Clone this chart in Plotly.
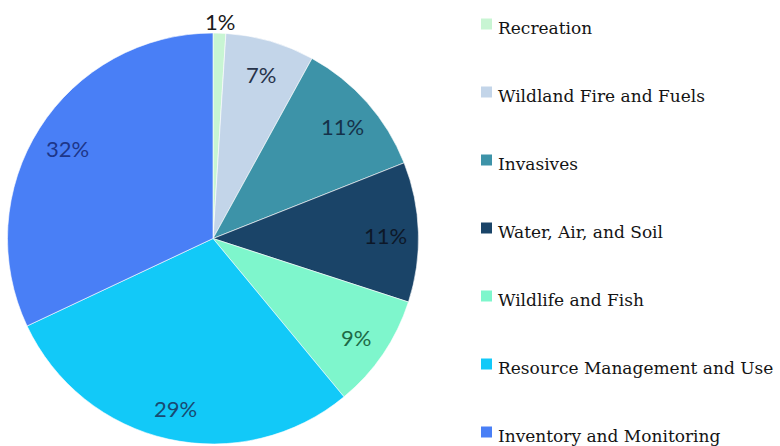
import math
import plotly.graph_objects as go

# Share of projects by program area (percent)
categories = [
    "Recreation",
    "Wildland Fire and Fuels",
    "Invasives",
    "Water, Air, and Soil",
    "Wildlife and Fish",
    "Resource Management and Use",
    "Inventory and Monitoring",
]
shares = [1, 7, 11, 11, 9, 29, 32]

slice_colors = ["#c8f5d3", "#c3d5e9", "#3d93a8", "#1a4468", "#7ef6cc", "#12c9f8", "#497ff6"]
label_colors = ["#1a1a1a", "#27334a", "#15324a", "#0d1828", "#1d6a46", "#184a72", "#1d3689"]

W, H = 780, 446
# pie placement in pixels
cx, cy, R = 213, 238.5, 205.5

fig = go.Figure()
fig.add_trace(go.Pie(
    labels=categories,
    values=shares,
    sort=False,
    direction="clockwise",
    rotation=0,
    marker=dict(colors=slice_colors, line=dict(color="rgba(255,255,255,0.6)", width=1)),
    textinfo="none",
    hoverinfo="label+percent",
    showlegend=False,
    domain=dict(x=[(cx - R) / W, (cx + R) / W], y=[(H - cy - R) / H, (H - cy + R) / H]),
))

# percentage labels placed along each slice's mid-angle
total = sum(shares)
cum = 0
annotations = []
for val, col in zip(shares, label_colors):
    mid = (cum + val / 2) / total * 2 * math.pi
    cum += val
    rf = 1.065 if val / total < 0.03 else 0.84
    px = cx + rf * R * math.sin(mid)
    py = cy - rf * R * math.cos(mid) + 2
    annotations.append(dict(
        x=px / W, y=1 - py / H, xref="paper", yref="paper",
        text=f"{val}%", showarrow=False,
        font=dict(family="Lato", size=22, color=col),
        xanchor="center", yanchor="middle",
    ))

# legend: colored squares with category names
shapes = []
leg_x, leg_top, leg_step, sq = 481, 26, 68, 11
for i, (name, col) in enumerate(zip(categories, slice_colors)):
    yc = leg_top + i * leg_step
    shapes.append(dict(
        type="rect", xref="paper", yref="paper",
        x0=leg_x / W, x1=(leg_x + sq) / W,
        y0=1 - (yc + sq / 2 - 2) / H, y1=1 - (yc - sq / 2 - 2) / H,
        fillcolor=col, line=dict(width=0),
    ))
    annotations.append(dict(
        x=(leg_x + sq + 4) / W, y=1 - (yc + 2) / H, xref="paper", yref="paper",
        text=name, showarrow=False, xanchor="left", yanchor="middle",
        font=dict(family="DejaVu Serif", size=17, color="#141414"),
    ))

fig.update_layout(
    width=W, height=H,
    margin=dict(l=0, r=0, t=0, b=0),
    paper_bgcolor="white",
    plot_bgcolor="white",
    annotations=annotations,
    shapes=shapes,
)

fig.write_html("out.html")
